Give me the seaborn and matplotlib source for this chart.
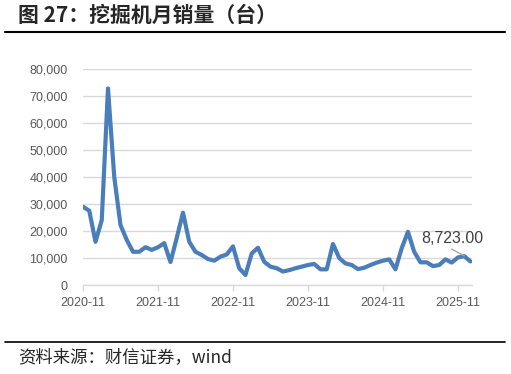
import matplotlib
matplotlib.use("Agg")
import matplotlib.pyplot as plt
import seaborn as sns
import pandas as pd
from matplotlib.lines import Line2D

# ---- data ----
sales = [29000, 27500, 16000, 24000, 72800, 40000, 22200, 16700, 12300, 12300,
         14000, 13000, 14000, 15500, 8500, 17400, 26800, 16000, 12300, 11100,
         9600, 9000, 10500, 11300, 14300, 6200, 3700, 11700, 13800, 8600,
         6800, 6200, 5000, 5500, 6200, 6800, 7400, 7800, 5800, 5800,
         15200, 10000, 8000, 7400, 5900, 6400, 7400, 8300, 9000, 9500,
         5800, 13600, 19700, 12300, 8400, 8400, 7000, 7400, 9500, 8300,
         10200, 10700, 8723]
tick_labels = ["2020-11", "2021-11", "2022-11", "2023-11", "2024-11", "2025-11"]
yticks = [0, 10000, 20000, 30000, 40000, 50000, 60000, 70000, 80000]
last_label = "8,723.00"
title = "图 27：挖掘机月销量（台）"
source = "资料来源：财信证券，wind"

df = pd.DataFrame({"idx": range(len(sales)), "sales": sales})

sns.set_style("white")
plt.rcParams['font.family'] = ['Liberation Sans', 'Noto Sans CJK SC', 'DejaVu Sans']

fig = plt.figure(figsize=(5.11, 3.74), dpi=100)
ax = fig.add_axes([83/511, 1-285/374, (472-83)/511, (285-69)/374])

sns.lineplot(data=df, x="idx", y="sales", ax=ax, color="#4A7EBB", linewidth=3.0)

ax.set_ylim(0, 80000)
ax.set_xlim(0, 62.25)
ax.set_yticks(yticks)
ax.set_yticklabels([f"{v:,}" for v in yticks])
ax.set_xticks([12*i for i in range(len(tick_labels))])
ax.set_xticklabels(tick_labels)
ax.set_xlabel("")
ax.set_ylabel("")
ax.grid(axis="y", color="#D9D9D9", linewidth=1)
ax.set_axisbelow(True)
for s in ["top", "right", "left"]:
    ax.spines[s].set_visible(False)
ax.spines["bottom"].set_color("#D9D9D9")
ax.spines["bottom"].set_linewidth(1)
ax.tick_params(axis="y", length=0, pad=11, labelsize=9, labelcolor="#595959")
ax.tick_params(axis="x", length=4, width=1, color="#D9D9D9", pad=5,
               labelsize=9, labelcolor="#595959", bottom=True)

# last value label with leader line
ax.plot([59.0, 61.0], [13300, 10800], color="#A6A6A6", linewidth=1)
ax.text(54.1, 17400, last_label, fontsize=11.5, color="#404040",
        va="center", ha="left")

# title, rules, source
fig.text(18/511, 1-15/374, title, fontsize=15, fontweight="bold",
         family=['Noto Sans CJK SC', 'DejaVu Sans'], va="center", ha="left")
fig.add_artist(Line2D([5/511, 505/511], [1-31.5/374, 1-31.5/374], color="black",
                      linewidth=1.5, transform=fig.transFigure))
fig.add_artist(Line2D([5/511, 505/511], [1-342/374, 1-342/374], color="black",
                      linewidth=1.2, transform=fig.transFigure))
fig.text(18/511, 1-357/374, source, fontsize=12.5, style="italic",
         family=['Noto Sans CJK SC', 'DejaVu Sans'], va="center", ha="left")

fig.savefig("out.png", dpi=100)
